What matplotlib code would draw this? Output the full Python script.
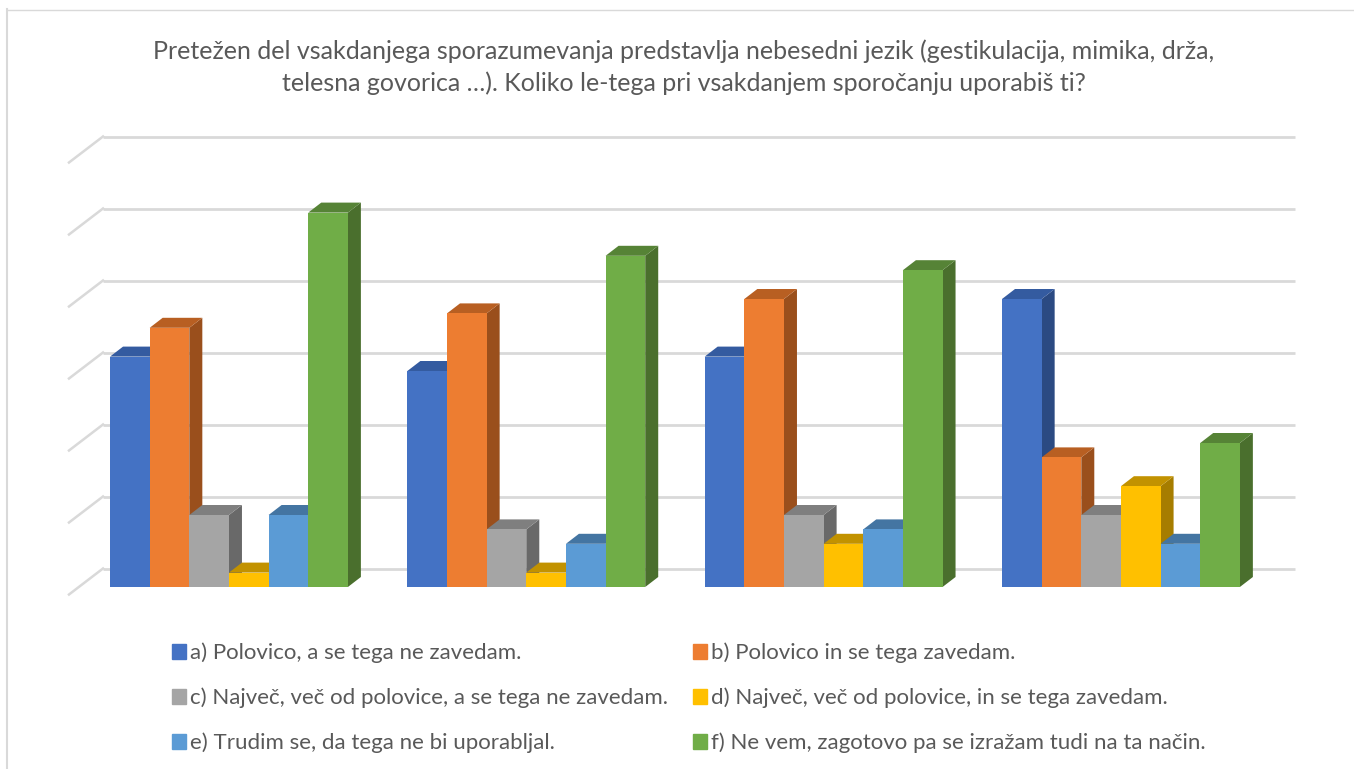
import matplotlib
matplotlib.use('Agg')
import matplotlib.pyplot as plt
from matplotlib.lines import Line2D
from matplotlib.patches import Patch

plt.rcParams['font.family'] = ['Lato', 'DejaVu Sans']

title = ('Pretežen del vsakdanjega sporazumevanja predstavlja nebesedni jezik (gestikulacija, mimika, drža,\n'
         'telesna govorica …). Koliko le-tega pri vsakdanjem sporočanju uporabiš ti?')
labels = ['a) Polovico, a se tega ne zavedam.',
          'b) Polovico in se tega zavedam.',
          'c) Največ, več od polovice, a se tega ne zavedam.',
          'd) Največ, več od polovice, in se tega zavedam.',
          'e) Trudim se, da tega ne bi uporabljal.',
          'f) Ne vem, zagotovo pa se izražam tudi na ta način.']
# one list per answer, four groups of bars (no category labels in the chart)
a_values = [16, 15, 16, 20]
b_values = [18, 19, 20, 9]
c_values = [5, 4, 5, 5]
d_values = [1, 1, 3, 7]
e_values = [5, 3, 4, 3]
f_values = [26, 23, 22, 10]
series = [a_values, b_values, c_values, d_values, e_values, f_values]
grid_values = [0, 5, 10, 15, 20, 25, 30]

front_colors = ['#4472C4', '#ED7D31', '#A5A5A5', '#FFC000', '#5B9BD5', '#70AD47']
top_colors = ['#345BA0', '#B85F22', '#7F7F7F', '#C29200', '#4475A2', '#568336']
side_colors = ['#2B4A82', '#9A4F1C', '#696969', '#A67D00', '#396489', '#4A6F2D']

W, H = 1354, 769
fig = plt.figure(figsize=(W / 100, H / 100), dpi=100)
ax = fig.add_axes([80.3 / W, (H - 587) / H, 1189.3 / W, 432 / H])
ax.set_xlim(-0.5, 3.5)
ax.set_ylim(0, 30)
ax.axis('off')

# pixels to data units, for the fake 3d depth
px_x = 4.0 / 1189.3
px_y = 30 / 432.0
bar_w = 1 / 7.5
depth_x = 13 * px_x
depth_y = 10 * px_y
wall_x = 34 * px_x
wall_y = 26 * px_y


def px_to_x(p):
    return -0.5 + (p - 80.3) * px_x


for v in grid_values:
    y = v + 18.5 * px_y
    ax.plot([px_to_x(103), px_to_x(1295)], [y, y], color='#D9D9D9', lw=2.0, clip_on=False,
            solid_capstyle='butt', zorder=1)
    ax.plot([px_to_x(103), px_to_x(103) - wall_x], [y, y - wall_y], color='#D9D9D9', lw=1.8,
            clip_on=False, zorder=1)

z = 2
for g in range(4):
    for i, vals in enumerate(series):
        v = vals[g]
        x0 = g - 3 * bar_w + i * bar_w
        x1 = x0 + bar_w
        ax.fill([x1, x1 + depth_x, x1 + depth_x, x1], [0, depth_y, v + depth_y, v],
                color=side_colors[i], lw=0, clip_on=False, zorder=z)
        ax.fill([x0, x1, x1 + depth_x, x0 + depth_x], [v, v, v + depth_y, v + depth_y],
                color=top_colors[i], lw=0, clip_on=False, zorder=z)
        ax.bar(x0, v, width=bar_w, align='edge', color=front_colors[i], lw=0, clip_on=False, zorder=z + 1)
        z += 2

fig.text(684 / W, 1 - 67 / H, title, ha='center', va='center', fontsize=17.98, color='#595959',
         linespacing=1.45)

# legend fills by column, so feed it a, c, e then b, d, f to get the rows right
order = [0, 2, 4, 1, 3, 5]
handles = [Patch(color=front_colors[i]) for i in order]
fig.legend(handles, [labels[i] for i in order], ncols=2, frameon=False, fontsize=16.05, labelcolor='#595959',
           loc='center left', bbox_to_anchor=(152 / W, 1 - 698 / H),
           handlelength=0.63, handleheight=0.63, handletextpad=0.18, columnspacing=1.12,
           labelspacing=1.1)

# chart frame: only the top and left edges show in the crop
fig.add_artist(Line2D([7 / W, 1], [1 - 9.5 / H, 1 - 9.5 / H], color='#D9D9D9', lw=1.0))
fig.add_artist(Line2D([7 / W, 7 / W], [0, 1 - 9 / H], color='#D9D9D9', lw=1.5))

fig.savefig('out.png', dpi=100)
